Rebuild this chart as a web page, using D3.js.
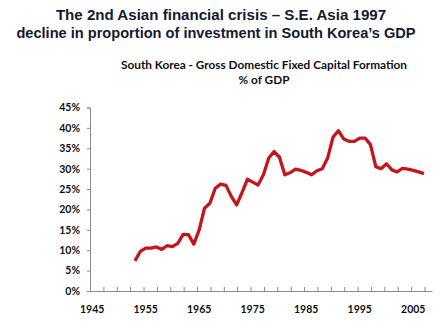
<!DOCTYPE html>
<html><head><meta charset="utf-8">
<script src="https://cdn.jsdelivr.net/npm/d3@7"></script>
<style>body{margin:0;background:#fff}svg{display:block}</style>
</head><body>
<svg id="c" width="444" height="323"></svg>
<script>
const years = [1953,1954,1955,1956,1957,1958,1959,1960,1961,1962,1963,1964,1965,1966,1967,1968,1969,1970,1971,1972,1973,1974,1975,1976,1977,1978,1979,1980,1981,1982,1983,1984,1985,1986,1987,1988,1989,1990,1991,1992,1993,1994,1995,1996,1997,1998,1999,2000,2001,2002,2003,2004,2005,2006,2007];
const gfcf = [7.4,9.7,10.5,10.5,10.8,10.2,11.1,10.9,11.7,13.9,13.8,11.5,15.0,20.3,21.5,25.2,26.2,25.9,23.2,21.1,24.1,27.4,26.7,26.0,28.5,32.6,34.2,32.8,28.5,29.0,29.9,29.6,29.1,28.5,29.5,30.0,32.6,37.7,39.3,37.3,36.7,36.7,37.5,37.5,35.9,30.5,30.0,31.2,29.7,29.2,30.1,29.9,29.6,29.2,28.8];
const yTicks = [0,5,10,15,20,25,30,35,40,45];
const xLabels = [1945,1955,1965,1975,1985,1995,2005];
const titleLines = ["The 2nd Asian financial crisis \u2013 S.E. Asia 1997","decline in proportion of investment in South Korea\u2019s GDP"];
const chartTitle = ["South Korea - Gross Domestic Fixed Capital Formation","% of GDP"];

const svg = d3.select("#c");
const x = d3.scaleLinear().domain([1944.6, 2008.5]).range([90, 432]);
const y = d3.scaleLinear().domain([0, 45]).range([291, 107.5]);

const titleSizes = [15.1, 14.6];
const titleY = [20, 38];
const titleX = [221, 216];
svg.selectAll("text.t").data(titleLines).join("text")
  .attr("x", (d,i)=>titleX[i]).attr("y", (d,i)=>titleY[i]).attr("text-anchor","middle")
  .attr("font-family","Liberation Sans, Arial, sans-serif").attr("font-weight","bold")
  .attr("font-size",(d,i)=>titleSizes[i]).attr("fill","#141a30").text(d=>d);

svg.selectAll("text.ct").data(chartTitle).join("text")
  .attr("x", 264).attr("y", (d,i)=>69+i*15).attr("text-anchor","middle")
  .attr("font-family","Lato, Open Sans, sans-serif").attr("font-weight","bold")
  .attr("font-size",11.8).attr("fill","#111").text(d=>d);

// y axis
const yAxis = svg.append("g").attr("transform","translate(90,0)")
  .call(d3.axisLeft(y).tickValues(yTicks).tickSize(3).tickFormat(d=>d+"%"));
yAxis.select(".domain").attr("stroke","#8a8a8a");
yAxis.selectAll(".tick line").attr("stroke","#8a8a8a");
yAxis.selectAll("text").attr("font-family","Lato, sans-serif").attr("font-weight","bold")
  .attr("font-size",10.5).attr("fill","#111").attr("x",-10);

// x axis
const xTicks = d3.range(1944.6, 2008.6, 2.5);
const xAxis = svg.append("g").attr("transform","translate(0,291)")
  .call(d3.axisBottom(x).tickValues(xTicks).tickSizeInner(-4).tickSizeOuter(0).tickFormat(""));
xAxis.select(".domain").attr("stroke","#8a8a8a");
xAxis.selectAll(".tick line").attr("stroke","#8a8a8a");
svg.append("g").selectAll("text").data(xLabels).join("text")
  .attr("x", d=>x(d)).attr("y", 313).attr("text-anchor","middle")
  .attr("font-family","Lato, sans-serif").attr("font-weight","bold")
  .attr("font-size",10.5).attr("fill","#111").text(d=>d);

const line = d3.line().x((d,i)=>x(years[i])).y(d=>y(d));
svg.append("path").datum(gfcf).attr("d", line).attr("fill","none")
  .attr("stroke","#c3161c").attr("stroke-width",3.3).attr("stroke-linejoin","round");
</script>
</body></html>
